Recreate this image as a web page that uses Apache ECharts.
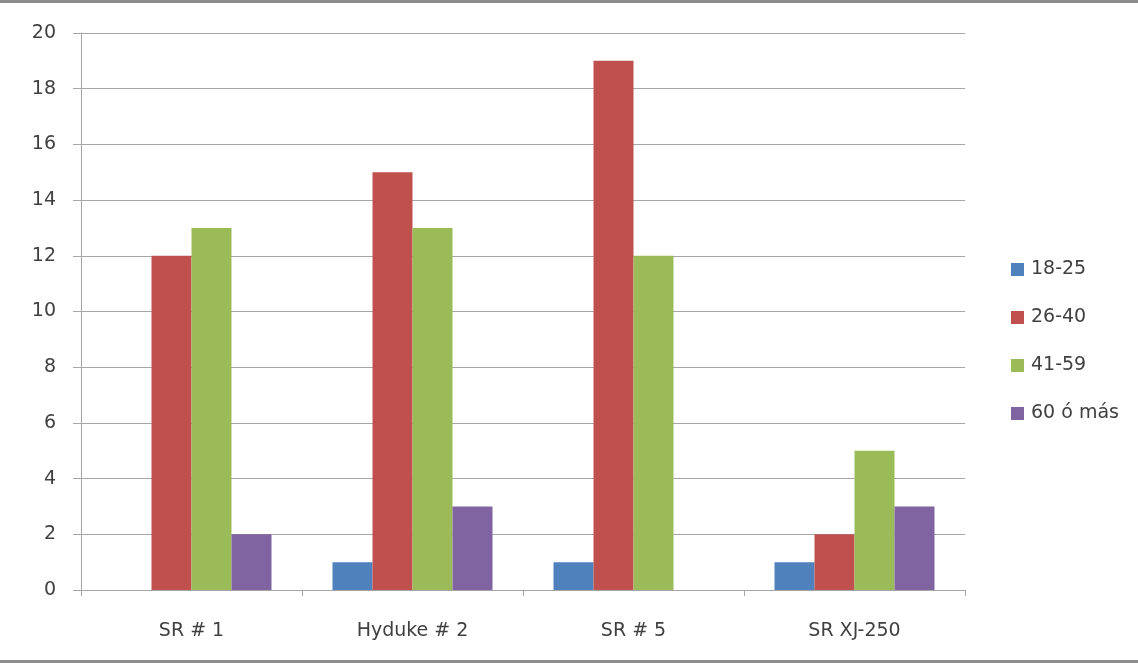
<!DOCTYPE html>
<html>
<head>
<meta charset="utf-8">
<script src="https://cdn.jsdelivr.net/npm/echarts@6/dist/echarts.min.js"></script>
<style>
  html, body { margin: 0; padding: 0; background: #fff; }
  #chart { width: 1138px; height: 663px; }
</style>
</head>
<body>
<div id="chart"></div>
<script>
// Sites and the age groups counted at each one
const categories = ['SR # 1', 'Hyduke # 2', 'SR # 5', 'SR XJ-250'];
const ageGroups = ['18-25', '26-40', '41-59', '60 ó más'];
const age18to25 = [0, 1, 1, 1];
const age26to40 = [12, 15, 19, 2];
const age41to59 = [13, 13, 12, 5];
const age60plus = [2, 3, 0, 3];
const colors = ['#4F81BD', '#C0504D', '#9BBB59', '#8064A2'];

const seriesValues = [age18to25, age26to40, age41to59, age60plus];
const font = '"DejaVu Sans", "Open Sans", sans-serif';
const textColor = '#404040';

const chart = echarts.init(document.getElementById('chart'), null, { renderer: 'canvas' });
chart.setOption({
  animation: false,
  backgroundColor: '#ffffff',
  grid: { left: 81, right: 173, top: 33, bottom: 73, containLabel: false },
  legend: {
    orient: 'vertical',
    left: 1006,
    top: 255,
    itemWidth: 13,
    itemHeight: 13,
    itemGap: 29,
    icon: 'rect',
    textStyle: { fontFamily: font, fontSize: 19, color: textColor, padding: [0, 0, 0, 2] },
    data: ageGroups
  },
  xAxis: {
    type: 'category',
    data: categories,
    axisLine: { lineStyle: { color: '#A6A6A6', width: 1 } },
    axisTick: { show: true, length: 6, lineStyle: { color: '#A6A6A6' } },
    axisLabel: { fontFamily: font, fontSize: 19, color: textColor, margin: 32 }
  },
  yAxis: {
    type: 'value',
    min: 0,
    max: 20,
    interval: 2,
    axisLine: { show: true, lineStyle: { color: '#A6A6A6', width: 1 } },
    axisTick: { show: true, length: 8, lineStyle: { color: '#A6A6A6' } },
    axisLabel: { fontFamily: font, fontSize: 19, color: textColor, margin: 25 },
    splitLine: { lineStyle: { color: '#A6A6A6', width: 1 } }
  },
  series: ageGroups.map((name, i) => ({
    name: name,
    type: 'bar',
    data: seriesValues[i],
    barGap: '0%',
    barCategoryGap: '27.6%',
    itemStyle: { color: colors[i] }
  })),
  graphic: [
    { type: 'rect', shape: { x: 0, y: 0, width: 1138, height: 3 }, style: { fill: '#8C8C8C' } },
    { type: 'rect', shape: { x: 0, y: 660, width: 1138, height: 3 }, style: { fill: '#8C8C8C' } }
  ]
});
</script>
</body>
</html>
